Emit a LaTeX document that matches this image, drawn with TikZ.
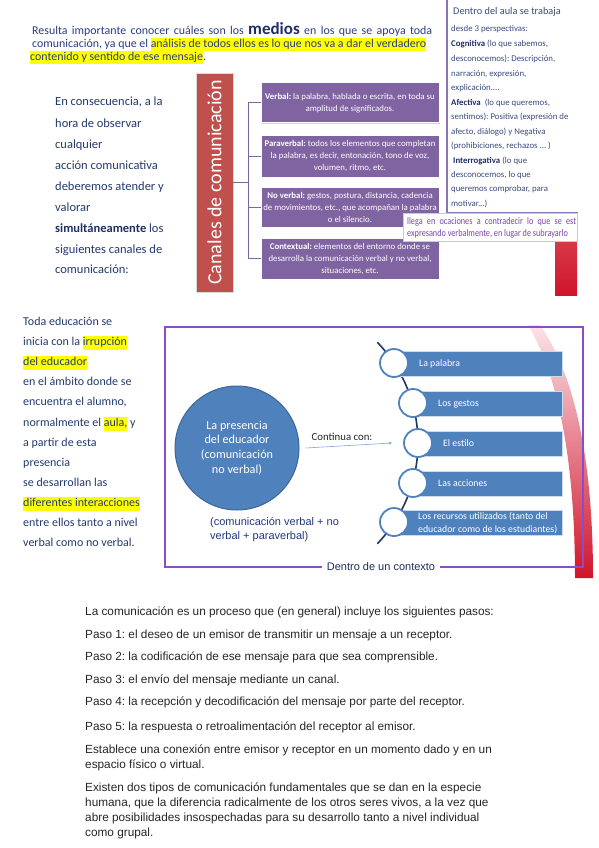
\documentclass[tikz,border=0pt]{standalone}
\usepackage{fontspec}
\setmainfont{Carlito}
\newfontfamily\arialf{Liberation Sans}
\usetikzlibrary{shadows,arrows.meta}
\definecolor{navy}{HTML}{233A6E}
\definecolor{topnavy}{HTML}{2A3C82}
\definecolor{rbtext}{HTML}{3A4B7C}
\definecolor{rbbold}{HTML}{1F2F66}
\definecolor{boxpurple}{HTML}{8064A2}
\definecolor{boxred}{HTML}{C0504D}
\definecolor{framepurple}{HTML}{8A4CC8}
\definecolor{blueoff}{HTML}{4F81BD}
\definecolor{bluedark}{HTML}{3A679E}
\definecolor{arcnavy}{HTML}{1F3864}
\definecolor{arrowblue}{HTML}{7FA6D6}
\definecolor{swred}{HTML}{D0142B}
\definecolor{swpink}{HTML}{FBE3E7}
\definecolor{redtop}{HTML}{D83848}
\definecolor{llegapurple}{HTML}{7A45A8}
\definecolor{llegaborder}{HTML}{C5CCE0}
\definecolor{rbline}{HTML}{8C74B4}
\definecolor{hlyellow}{HTML}{FFFF00}
\definecolor{graytext}{HTML}{262626}
\definecolor{arialblue}{HTML}{22397C}
\definecolor{ctxnavy}{HTML}{1F2D5C}
\newcommand{\hlt}[1]{{\setlength{\fboxsep}{0pt}\colorbox{hlyellow}{\strut #1}}}
\frenchspacing
\tikzset{
  txt/.style={anchor=west, inner sep=0pt, text height=0.7em, text depth=0.2em},
  toptxt/.style={txt, text=topnavy, font=\fontsize{11.9}{13}\selectfont},
  rbtxt/.style={txt, text=rbtext, font=\fontsize{8.8}{10}\selectfont},
  leftA/.style={txt, text=navy, font=\fontsize{12.5}{15}\selectfont},
  leftB/.style={txt, text=navy, font=\fontsize{12}{14}\selectfont},
  bottxt/.style={txt, text=graytext, font=\arialf\fontsize{11.8}{14.5}\selectfont},
  pbox/.style={fill=boxpurple, draw=white, line width=1pt, minimum width=178, text=white, align=center, font=\fontsize{8.8}{12}\selectfont, drop shadow={opacity=0.35, shadow xshift=1pt, shadow yshift=-1pt}, inner sep=1pt},
  conn/.style={draw=boxpurple, line width=1pt},
  bar/.style={fill=blueoff, draw=white!70!blueoff, line width=0.6pt, minimum height=25, anchor=west, inner sep=0pt},
  ring/.style={circle, fill=white, draw=blueoff, line width=1.8pt, minimum size=28, inner sep=0pt},
  bartxt/.style={txt, text=white, font=\fontsize{9.8}{13}\selectfont, align=left},
  llegatxt/.style={txt, text=llegapurple, font=\fontsize{10}{12}\selectfont},
}
\begin{document}
\begin{tikzpicture}[x=1pt,y=-1pt]
\useasboundingbox (0,0) rectangle (599,848);
\fill[white] (0,0) rectangle (599,848);

% ---------- top paragraph ----------
\node[toptxt] (t1) at (32,32) {\makebox[400pt][s]{Resulta importante conocer cuáles son los {\fontsize{17}{13}\selectfont\bfseries\color{rbbold}medios} en los que se apoya toda}};
\node[toptxt] (t2) at (32,45) {comunicación, ya que el \hlt{análisis de todos ellos es lo que nos va a dar el verdadero}};
\node[toptxt] (t3) at (30,58) {\hlt{contenido y sentido de ese mensaje}.};

% ---------- right text box ----------
\coordinate (rbtop) at (447,0);
\coordinate (rbcorner) at (447,213);
\coordinate (rbend) at (578,213);
\draw[rbline, line width=1.2pt] (rbtop) -- (rbcorner) -- (rbend);
\node[rbtxt, font=\fontsize{10.3}{12}\selectfont] (rb1) at (453,12) {Dentro del aula se trabaja};
\node[rbtxt] (rb2) at (451,29) {desde 3 perspectivas:};
\node[rbtxt] (rb3) at (451,44) {{\color{rbbold}\bfseries Cognitiva} (lo que sabemos,};
\node[rbtxt] (rb4) at (451,59) {desconocemos): Descripción,};
\node[rbtxt] (rb5) at (451,74) {narración, expresión,};
\node[rbtxt] (rb6) at (451,88) {explicación....};
\node[rbtxt] (rb7) at (451,103) {{\color{rbbold}\bfseries Afectiva}\ \ (lo que queremos,};
\node[rbtxt] (rb8) at (451,117) {sentimos): Positiva (expresión de};
\node[rbtxt] (rb9) at (451,132) {afecto, diálogo) y Negativa};
\node[rbtxt] (rb10) at (451,146) {(prohibiciones, rechazos ... )};
\node[rbtxt] (rb11) at (453,161) {{\color{rbbold}\bfseries Interrogativa} (lo que};
\node[rbtxt] (rb12) at (451,175) {desconocemos, lo que};
\node[rbtxt] (rb13) at (451,189) {queremos comprobar, para};
\node[rbtxt] (rb14) at (451,204) {motivar...)};

% red bar top right
\shade[top color=redtop, bottom color=swred] (555,242) rectangle (577,295);

% ---------- left paragraph A ----------
\node[leftA] (a1) at (55,103) {En consecuencia, a la};
\node[leftA] (a2) at (55,125) {hora de observar};
\node[leftA] (a3) at (55,146) {cualquier};
\node[leftA] (a4) at (55,167) {acción comunicativa};
\node[leftA] (a5) at (55,188) {deberemos atender y};
\node[leftA] (a6) at (55,209) {valorar};
\node[leftA] (a7) at (55,230) {{\bfseries\color{rbbold}simultáneamente} los};
\node[leftA] (a8) at (55,251) {siguientes canales de};
\node[leftA] (a9) at (55,271) {comunicación:};

% ---------- canales ----------
\node[fill=boxred, draw=black!15, line width=0.8pt, rotate=90, minimum width=219, minimum height=37, text=white, font=\fontsize{20}{22}\selectfont, inner sep=0pt, drop shadow={opacity=0.25, shadow xshift=1pt, shadow yshift=-1pt}] (canales) at (214.5,182.5) {Canales de comunicación};

\node[pbox, minimum height=40] (p1) at (350,103) {\textbf{Verbal:} la palabra, hablada o escrita, en toda su\\amplitud de significados.};
\node[pbox, minimum height=42] (p2) at (350,156) {\textbf{Paraverbal:} todos los elementos que completan\\la palabra, es decir, entonación, tono de voz,\\volumen, ritmo, etc.};
\node[pbox, minimum height=40] (p3) at (350,207) {\textbf{No verbal:} gestos, postura, distancia, cadencia\\de movimientos, etc., que acompañan la palabra\\o el silencio.};
\node[pbox, minimum height=41] (p4) at (350,258.5) {\textbf{Contextual:} elementos del entorno donde se\\desarrolla la comunicación verbal y no verbal,\\situaciones, etc.};

\coordinate (tj) at (248,182.5);
\draw[conn] (canales.south) -- (tj);
\draw[conn] (tj |- p1.west) -- (tj |- p4.west);
\draw[conn] (tj |- p1.west) -- (p1.west);
\draw[conn] (tj |- p2.west) -- (p2.west);
\draw[conn] (tj |- p3.west) -- (p3.west);
\draw[conn] (tj |- p4.west) -- (p4.west);

% llega box
\node[draw=llegaborder, fill=white, line width=0.8pt, minimum width=174, minimum height=28, anchor=north west, inner sep=0pt] (llega) at (403,213) {};
\node[llegatxt] (lg1) at (407,222) {\scalebox{0.82}[1]{\makebox[206pt][s]{llega en ocaciones a contradecir lo que se est}}};
\node[llegatxt] (lg2) at (407,234) {\scalebox{0.82}[1]{expresando verbalmente, en lugar de subrayarlo}};

% ---------- left paragraph B ----------
\node[leftB] (b1) at (23,323) {Toda educación se};
\node[leftB] (b2) at (23,343) {inicia con la \hlt{irrupción}};
\node[leftB] (b3) at (23,363) {\hlt{del educador}};
\node[leftB] (b4) at (23,383) {en el ámbito donde se};
\node[leftB] (b5) at (23,403) {encuentra el alumno,};
\node[leftB] (b6) at (23,424) {normalmente el \hlt{aula,} y};
\node[leftB] (b7) at (23,444) {a partir de esta};
\node[leftB] (b8) at (23,464) {presencia};
\node[leftB] (b9) at (23,484) {se desarrollan las};
\node[leftB] (b10) at (23,504) {\hlt{diferentes interacciones}};
\node[leftB] (b11) at (23,524) {entre ellos tanto a nivel};
\node[leftB] (b12) at (23,544) {verbal como no verbal.};

% ---------- swoosh ----------
\shade[top color=swpink, bottom color=swred] (528,325) .. controls (555,370) and (575,450) .. (575,578) -- (593,578) .. controls (593,470) and (578,380) .. (540,325) -- cycle;

% ---------- frame ----------
\draw[framepurple, line width=1.3pt] (165,327) rectangle (583,567);
\node[fill=white, inner xsep=5pt, inner ysep=1pt, text=ctxnavy, font=\arialf\fontsize{11}{13}\selectfont] (ctx) at (381,567) {Dentro de un contexto};

% circle
\node[circle, fill=blueoff, draw=bluedark, line width=1pt, minimum size=124, inner sep=0pt, align=center, text=white, font=\fontsize{12.2}{14.8}\selectfont] (pres) at (237,448) {La presencia\\del educador\\(comunicación\\no verbal)};
\node[font=\fontsize{10.8}{12}\selectfont, text=black!85, inner sep=0pt] (cont) at (342,437) {Continua con:};
\node[anchor=west, inner sep=0pt, align=left, text=arialblue, font=\arialf\fontsize{11}{14}\selectfont] (cvb) at (210,530) {(comunicación verbal + no\\verbal + paraverbal)};

% curved list
\draw[arcnavy, line width=1.6pt] plot[domain=-44:44, samples=60] ({273+145*cos(\x)}, {443+145*sin(\x)});
\node[bar, minimum width=168] (bar1) at (394,364) {};
\node[bar, minimum width=149] (bar2) at (413,404) {};
\node[bar, minimum width=144] (bar3) at (418,443.5) {};
\node[bar, minimum width=149] (bar4) at (413,483.5) {};
\node[bar, minimum width=168] (bar5) at (394,522.5) {};
\node[ring] (c1) at (394,363) {};
\node[ring] (c2) at (413,403) {};
\node[ring] (c3) at (418,443) {};
\node[ring] (c4) at (413,483) {};
\node[ring] (c5) at (394,522) {};
\node[bartxt] (l1) at (419,364) {La palabra};
\node[bartxt] (l2) at (438,404) {Los gestos};
\node[bartxt] (l3) at (443,443.5) {El estilo};
\node[bartxt] (l4) at (438,483.5) {Las acciones};
\node[anchor=west, inner sep=0pt, text=white, font=\fontsize{9.8}{13}\selectfont, align=left] (l5) at (418,523) {Los recursos utilizados (tanto del\\educador como de los estudiantes)};

\draw[arrowblue, line width=0.6pt, -{Stealth[length=3.5pt,width=3pt]}] ([xshift=6pt]pres.east) -- ([xshift=-11pt]c3.west);

% ---------- bottom text ----------
\node[bottxt] (s0) at (85,613) {La comunicación es un proceso que (en general) incluye los siguientes pasos:};
\node[bottxt] (s1) at (85,636) {Paso 1: el deseo de un emisor de transmitir un mensaje a un receptor.};
\node[bottxt] (s2) at (85,658) {Paso 2: la codificación de ese mensaje para que sea comprensible.};
\node[bottxt] (s3) at (85,681) {Paso 3: el envío del mensaje mediante un canal.};
\node[bottxt] (s4) at (85,703) {Paso 4: la recepción y decodificación del mensaje por parte del receptor.};
\node[bottxt] (s5) at (85,728) {Paso 5: la respuesta o retroalimentación del receptor al emisor.};
\node[bottxt] (e1) at (85,751) {Establece una conexión entre emisor y receptor en un momento dado y en un};
\node[bottxt] (e2) at (85,766) {espacio físico o virtual.};
\node[bottxt] (x1) at (85,789) {Existen dos tipos de comunicación fundamentales que se dan en la especie};
\node[bottxt] (x2) at (85,804) {humana, que la diferencia radicalmente de los otros seres vivos, a la vez que};
\node[bottxt] (x3) at (85,819) {abre posibilidades insospechadas para su desarrollo tanto a nivel individual};
\node[bottxt] (x4) at (85,834) {como grupal.};
\end{tikzpicture}
\end{document}
